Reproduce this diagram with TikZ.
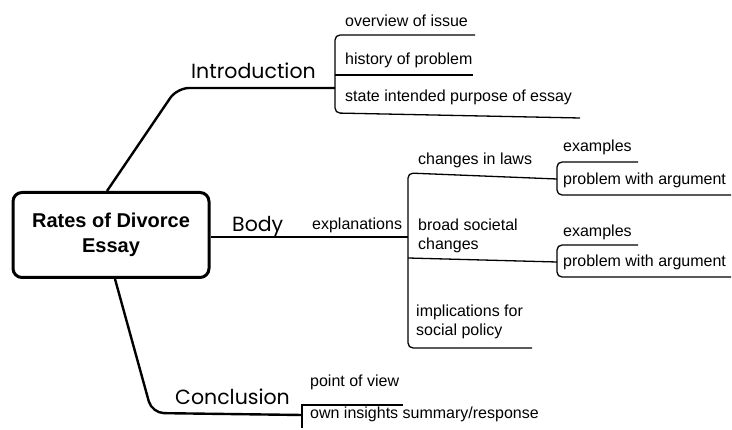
\documentclass[tikz,border=0pt]{standalone}
\usepackage{fontspec}
\setmainfont{Liberation Sans}
\newfontfamily\headfont{Poppins}
\usetikzlibrary{calc}
\tikzset{
  small/.style={anchor=base west, inner sep=0pt, font=\fontsize{16}{19}\selectfont},
  branch/.style={anchor=base west, inner sep=0pt, font=\headfont\fontsize{20.5}{24}\selectfont},
  mainline/.style={line width=2.4pt, rounded corners=12pt},
  leaf/.style={line width=1.3pt, rounded corners=5pt},
  centerbox/.style={draw, line width=3pt, rounded corners=9pt, minimum width=196pt,
    minimum height=85pt, align=center, inner sep=0pt,
    font=\bfseries\fontsize{20}{25}\selectfont}
}
\begin{document}
\begin{tikzpicture}[x=1pt,y=-1pt]
\useasboundingbox (0,0) rectangle (732,430);

% central topic
\node[centerbox] (essay) at (111,235) {Rates of Divorce\\Essay};

% Introduction branch
\coordinate (introJ) at (335,88);
\draw[mainline] ($(essay.north)+(-4,0)$) -- (177,88) -- (introJ);
\node[branch] (intro) at (191,79) {Introduction};
\draw[leaf] (475,35) -- (335,35) -- (335,113) -- (580,118);
\draw[leaf] (335,75) -- (473,75);
\node[small] (overview) at (345,27) {overview of issue};
\node[small] (history) at (345,65) {history of problem};
\node[small] (purpose) at (345,102) {state intended purpose of essay};

% Body branch
\coordinate (bodyJ) at (408,237);
\draw[mainline] ($(essay.east)+(0,2)$) -- (bodyJ);
\node[branch] (body) at (232,232) {Body};
\node[small] (expl) at (312,230) {explanations};
\draw[leaf] (557,179) -- (408,173) -- (408,348) -- (532,348);
\draw[leaf] (408,258) -- (557,262);
\node[small] (laws) at (418,165) {changes in laws};
\node[small] (societal) at (418,231) {broad societal};
\node[small] (societal2) at (418,250) {changes};
\node[small] (implic) at (416,317) {implications for};
\node[small] (implic2) at (416,336) {social policy};

% examples / problem with argument (laws)
\draw[leaf] (638,162) -- (557,162) -- (557,195) -- (731,195);
\node[small] (exA) at (563,152) {examples};
\node[small] (probA) at (563,185) {problem with argument};

% examples / problem with argument (societal changes)
\draw[leaf] (638,245) -- (557,245) -- (557,277) -- (731,277);
\node[small] (exB) at (563,237) {examples};
\node[small] (probB) at (563,267) {problem with argument};

% Conclusion branch
\coordinate (concJ) at (302,415);
\draw[mainline] ($(essay.south)+(4,0)$) -- (152,413) -- (concJ);
\node[branch] (concl) at (175,405) {Conclusion};
\draw[line width=1.3pt] (403,405) -- (302,405) -- (302,428);
\node[small] (pov) at (310,387) {point of view};
\node[small] (insight) at (310,419) {own insights summary/response};
\end{tikzpicture}
\end{document}
